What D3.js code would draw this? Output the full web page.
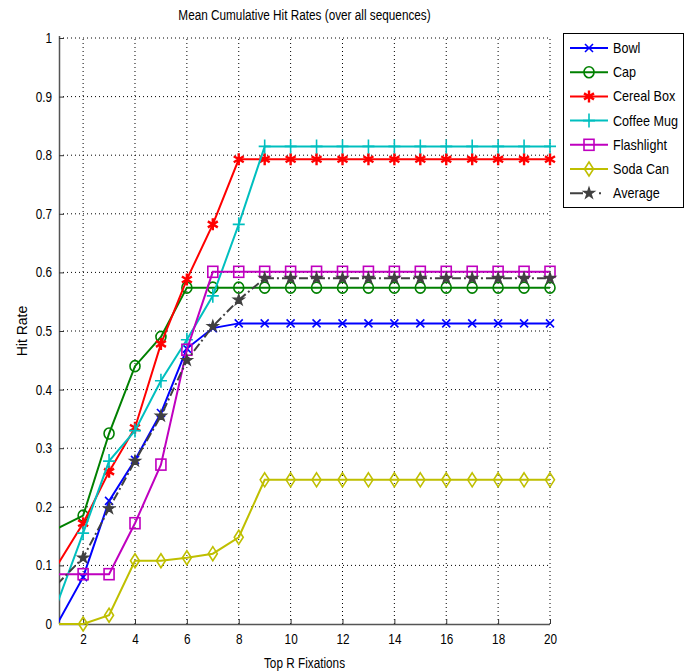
<!DOCTYPE html>
<html><head><meta charset="utf-8">
<script src="https://cdn.jsdelivr.net/npm/d3@7"></script>
<style>
body{margin:0;background:#fff;}
text{font-family:"Liberation Sans",Arial,sans-serif;fill:#000;}
</style></head>
<body><svg id="c" width="693" height="672"></svg>
<script>
const xs = [1,2,3,4,5,6,7,8,9,10,11,12,13,14,15,16,17,18,19,20];
const bowl      = [0.000,0.080,0.210,0.280,0.360,0.470,0.505,0.513,0.513,0.513,0.513,0.513,0.513,0.513,0.513,0.513,0.513,0.513,0.513,0.513];
const cap       = [0.163,0.185,0.325,0.440,0.490,0.574,0.574,0.574,0.574,0.574,0.574,0.574,0.574,0.574,0.574,0.574,0.574,0.574,0.574,0.574];
const cerealBox = [0.100,0.172,0.260,0.335,0.478,0.588,0.682,0.793,0.793,0.793,0.793,0.793,0.793,0.793,0.793,0.793,0.793,0.793,0.793,0.793];
const coffeeMug = [0.035,0.155,0.278,0.330,0.415,0.485,0.560,0.682,0.815,0.815,0.815,0.815,0.815,0.815,0.815,0.815,0.815,0.815,0.815,0.815];
const flashlight= [0.085,0.085,0.085,0.172,0.272,0.468,0.601,0.601,0.601,0.601,0.601,0.601,0.601,0.601,0.601,0.601,0.601,0.601,0.601,0.601];
const sodaCan   = [0.000,0.000,0.015,0.108,0.108,0.113,0.120,0.148,0.246,0.246,0.246,0.246,0.246,0.246,0.246,0.246,0.246,0.246,0.246,0.246];
const average   = [0.068,0.113,0.197,0.278,0.355,0.450,0.508,0.553,0.590,0.590,0.590,0.590,0.590,0.590,0.590,0.590,0.590,0.590,0.590,0.590];
const seriesNames = ["Bowl","Cap","Cereal Box","Coffee Mug","Flashlight","Soda Can","Average"];
const xTicks = [2,4,6,8,10,12,14,16,18,20];
const yTicks = [0,0.1,0.2,0.3,0.4,0.5,0.6,0.7,0.8,0.9,1];
const title = "Mean Cumulative Hit Rates (over all sequences)";
const xLabel = "Top R Fixations";
const yLabel = "Hit Rate";

const series = [
  {name:seriesNames[0], values:bowl,       color:"#0000ff", marker:"x"},
  {name:seriesNames[1], values:cap,        color:"#008000", marker:"o"},
  {name:seriesNames[2], values:cerealBox,  color:"#ff0000", marker:"*"},
  {name:seriesNames[3], values:coffeeMug,  color:"#00bfbf", marker:"+"},
  {name:seriesNames[4], values:flashlight, color:"#bf00bf", marker:"s"},
  {name:seriesNames[5], values:sodaCan,    color:"#bfbf00", marker:"d"},
  {name:seriesNames[6], values:average,    color:"#404040", marker:"p", dash:"9,3,2,3"}
];

const NARROW = 0.84;
function narrow(sel){
  sel.each(function(){
    const len = this.getComputedTextLength();
    d3.select(this).attr("textLength", len*NARROW).attr("lengthAdjust","spacingAndGlyphs");
  });
}

const svg = d3.select("#c");
const L=59, R=550, T=38, B=624;
const x = d3.scaleLinear().domain([1.07,20]).range([L,R]);
const y = d3.scaleLinear().domain([0,1]).range([B,T]);

svg.append("defs").append("clipPath").attr("id","clip")
  .append("rect").attr("x",L).attr("y",T-8).attr("width",R-L+10).attr("height",B-T+16);

// grid
const g = svg.append("g");
g.selectAll(".gx").data(xTicks).join("line")
  .attr("x1",d=>x(d)).attr("x2",d=>x(d)).attr("y1",B).attr("y2",T)
  .attr("stroke","#000").attr("stroke-width",1).attr("stroke-dasharray","1,3");
g.selectAll(".gy").data(yTicks.filter(d=>d>0)).join("line")
  .attr("x1",L).attr("x2",R).attr("y1",d=>y(d)).attr("y2",d=>y(d))
  .attr("stroke","#000").attr("stroke-width",1).attr("stroke-dasharray","1,3");

// axes
const xAxis = d3.axisBottom(x).tickValues(xTicks).tickSizeInner(-5).tickSizeOuter(0).tickPadding(10);
const yAxis = d3.axisLeft(y).tickValues(yTicks).tickFormat(d=>d3.format("")(+d.toFixed(1))).tickSizeInner(-5).tickSizeOuter(0).tickPadding(7);
const gx = svg.append("g").attr("transform",`translate(0,${B})`).call(xAxis);
const gy = svg.append("g").attr("transform",`translate(${L},0)`).call(yAxis);
[gx,gy].forEach(a=>{
  a.select(".domain").attr("stroke","#555").attr("stroke-width",1.5);
  a.selectAll(".tick line").attr("stroke","#333");
  a.selectAll("text").style("font-family",null).attr("font-size",14).attr("fill","#000").call(narrow);
});
gx.select(".domain").attr("d",`M${L},0.5H${R}`);
gy.select(".domain").attr("d",`M0.5,${B}V${T-2}`);

// lines
const line = d3.line().x((d,i)=>x(xs[i])).y(d=>y(d));
const plot = svg.append("g").attr("clip-path","url(#clip)");

function marker(sel, type, color, cx, cy){
  const m = sel.append("g").attr("transform",`translate(${cx},${cy})`)
    .attr("stroke",color).attr("fill","none").attr("stroke-width",1.6);
  if(type==="x"){ m.append("path").attr("d","M-4,-4L4,4M-4,4L4,-4"); }
  else if(type==="o"){ m.append("ellipse").attr("rx",5).attr("ry",5.5); }
  else if(type==="*"){ m.append("path").attr("d","M0,-6V6M-5,-3L5,3M-5,3L5,-3").attr("stroke-width",2.4); }
  else if(type==="+"){ m.append("path").attr("d","M0,-7V7M-6,0H6"); }
  else if(type==="s"){ m.append("rect").attr("x",-5).attr("y",-5.5).attr("width",10).attr("height",11); }
  else if(type==="d"){ m.append("path").attr("d","M0,-7L4.5,0L0,7L-4.5,0Z"); }
  else if(type==="p"){ m.append("path").attr("d",d3.symbol(d3.symbolStar,38)()).attr("stroke-width",1.2).attr("fill",color); }
}

series.forEach(s=>{
  plot.append("path").datum(s.values).attr("d",line)
    .attr("fill","none").attr("stroke",s.color).attr("stroke-width",2)
    .attr("stroke-dasharray",s.dash||null);
  s.values.forEach((v,i)=>{ if(x(xs[i])>=L) marker(plot,s.marker,s.color,x(xs[i]),y(v)); });
});

// title & labels
svg.append("text").attr("x",(L+R)/2).attr("y",20).attr("text-anchor","middle").attr("font-size",14).text(title).call(narrow);
svg.append("text").attr("x",(L+R)/2).attr("y",668).attr("text-anchor","middle").attr("font-size",14).text(xLabel).call(narrow);
svg.append("text").attr("transform",`translate(27,${(T+B)/2}) rotate(-90)`).attr("text-anchor","middle").attr("font-size",14).text(yLabel);

// legend
const lg = svg.append("g");
lg.append("rect").attr("x",563.5).attr("y",33.5).attr("width",120).attr("height",174)
  .attr("fill","#fff").attr("stroke","#000").attr("stroke-width",1);
series.forEach((s,i)=>{
  const ly = 48 + i*24.2;
  lg.append("line").attr("x1",570).attr("x2",608).attr("y1",ly).attr("y2",ly)
    .attr("stroke",s.color).attr("stroke-width",2).attr("stroke-dasharray",s.dash?"13,16,2,30":null);
  marker(lg,s.marker,s.color,589,ly);
  lg.append("text").attr("x",613).attr("y",ly+5).attr("font-size",15).text(s.name).call(narrow);
});
</script></body></html>
